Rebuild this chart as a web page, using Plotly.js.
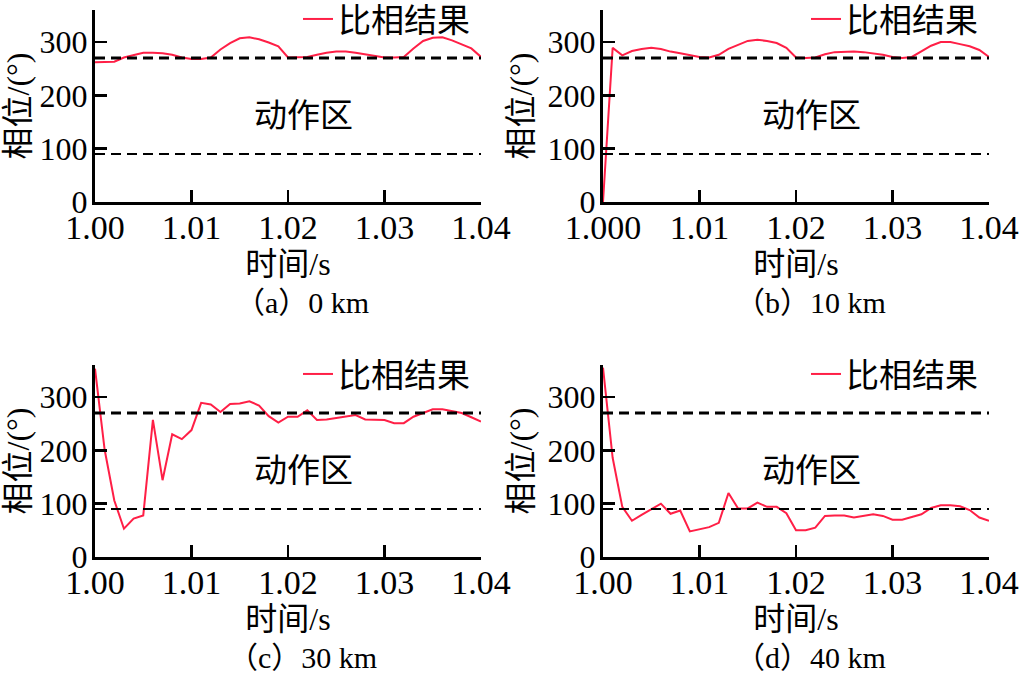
<!DOCTYPE html>
<html>
<head>
<meta charset="utf-8">
<script src="https://cdn.plot.ly/plotly-3.0.1.min.js"></script>
<style>
  html, body { margin: 0; padding: 0; background: #ffffff; }
  #chart { width: 1021px; height: 674px; }
</style>
</head>
<body>
<div id="chart"></div>
<script>
// Sample times (s)
const time = [1.000, 1.001, 1.002, 1.003, 1.004, 1.005, 1.006, 1.007, 1.008, 1.009,
              1.010, 1.011, 1.012, 1.013, 1.014, 1.015, 1.016, 1.017, 1.018, 1.019,
              1.020, 1.021, 1.022, 1.023, 1.024, 1.025, 1.026, 1.027, 1.028, 1.029,
              1.030, 1.031, 1.032, 1.033, 1.034, 1.035, 1.036, 1.037, 1.038, 1.039,
              1.040];

// Phase comparison result (degrees) for each fault distance
const phase0km = [262, 262, 263, 271, 276, 280, 280, 279, 276, 271,
                  268, 268, 271, 286, 298, 307, 309, 305, 299, 292,
                  271, 271, 272, 276, 280, 282, 282, 280, 277, 273,
                  271, 271, 272, 288, 302, 308, 309, 303, 296, 288,
                  272];
const phase10km = [0, 289, 275, 283, 287, 289, 287, 282, 279, 276,
                   272, 271, 276, 287, 294, 302, 304, 302, 298, 289,
                   271, 270, 271, 277, 281, 282, 282, 281, 279, 276,
                   272, 270, 272, 282, 293, 300, 300, 296, 292, 285,
                   272];
const phase30km = [353, 201, 106, 53, 72, 78, 257, 144, 230, 221,
                   238, 289, 286, 272, 287, 288, 292, 284, 264, 252,
                   263, 263, 275, 257, 258, 261, 263, 266, 258, 257,
                   257, 251, 251, 263, 270, 277, 277, 273, 270, 262,
                   254];
const phase40km = [355, 186, 94, 68, 79, 90, 100, 81, 87, 48,
                   52, 56, 64, 120, 91, 91, 102, 94, 94, 82,
                   50, 50, 55, 77, 78, 78, 74, 77, 80, 77,
                   70, 70, 75, 80, 92, 97, 97, 95, 88, 74,
                   68];

// Operating zone boundaries (degrees)
const zoneUpper = 270;
const zoneLower = 90;

// Axis ticks
const xTickVals = [1.00, 1.01, 1.02, 1.03, 1.04];
const xTickTextA = ['1.00', '1.01', '1.02', '1.03', '1.04'];
const xTickTextB = ['1.000', '1.01', '1.02', '1.03', '1.04'];
const yTickVals = [0, 100, 200, 300, 360];
const yTickText = ['0', '100', '200', '300', ''];

// Text
const seriesName = '比相结果';
const zoneLabel = '动作区';
const xTitle = '时间/s';
const yTitle = '相位/(°)';
const captions = ['（a）0 km', '（b）10 km', '（c）30 km', '（d）40 km'];
const seriesList = [phase0km, phase10km, phase30km, phase40km];
const xTickTexts = [xTickTextA, xTickTextB, xTickTextA, xTickTextA];

const SERIF = '"Liberation Serif", serif';
const FONT = '"Liberation Serif", "Noto Sans CJK SC", serif';
const RED = '#ff1f46';
const W = 1021, H = 674;
const px = v => v / W;
const py = v => 1 - v / H;

// Plot-area boxes in pixels: [left, right, top, bottom]
const boxes = [
  [95, 481, 10, 202],
  [603, 989, 10, 202],
  [95, 481, 365, 557],
  [603, 989, 365, 557]
];

const data = [];
const layout = {
  width: W, height: H,
  margin: {l: 0, r: 0, t: 0, b: 0, autoexpand: false},
  paper_bgcolor: '#ffffff',
  plot_bgcolor: '#ffffff',
  font: {family: FONT, color: '#000000'},
  showlegend: true,
  shapes: [],
  annotations: []
};

boxes.forEach((b, i) => {
  const n = i === 0 ? '' : String(i + 1);
  const xa = 'x' + n, ya = 'y' + n;
  const legendId = 'legend' + n;

  data.push({
    type: 'scatter', mode: 'lines',
    x: time, y: seriesList[i],
    xaxis: xa, yaxis: ya,
    name: seriesName,
    legend: legendId,
    line: {color: RED, width: 2}
  });

  layout['xaxis' + n] = {
    domain: [px(b[0]), px(b[1])],
    anchor: ya,
    range: [1.0, 1.04],
    tickmode: 'array', tickvals: xTickVals, ticktext: xTickTexts[i],
    ticks: 'inside', ticklen: 12, tickwidth: 2.5, tickcolor: '#000',
    ticklabelstandoff: -7,
    showline: true, linewidth: 3, linecolor: '#000',
    showgrid: false, zeroline: false,
    tickfont: {family: SERIF, size: 34, color: '#000'},
    title: {text: xTitle, font: {family: FONT, size: 32, color: '#000'}, standoff: 0}
  };
  layout['yaxis' + n] = {
    domain: [py(b[3]), py(b[2])],
    anchor: xa,
    range: [0, 360],
    tickmode: 'array', tickvals: yTickVals, ticktext: yTickText,
    ticks: 'inside', ticklen: 12, tickwidth: 2.5, tickcolor: '#000',
    ticklabelstandoff: -2,
    showline: true, linewidth: 3, linecolor: '#000',
    showgrid: false, zeroline: false,
    tickfont: {family: SERIF, size: 32, color: '#000'},
    title: {text: yTitle, font: {family: FONT, size: 32, color: '#000'}, standoff: 6}
  };

  layout[legendId] = {
    x: px(b[0] + 203), y: py(b[2] - 19),
    xanchor: 'left', yanchor: 'top',
    bgcolor: 'rgba(0,0,0,0)', borderwidth: 0,
    font: {family: FONT, size: 33, color: '#000'},
    itemwidth: 30
  };

  // Operating zone boundaries
  [[zoneUpper, 3], [zoneLower, 2]].forEach(([v, w]) => {
    layout.shapes.push({
      type: 'line', xref: xa + ' domain', yref: ya,
      x0: 0, x1: 1, y0: v, y1: v,
      line: {color: '#000', width: w, dash: '10px,6px'}
    });
  });

  // Zone label
  layout.annotations.push({
    text: zoneLabel, showarrow: false,
    xref: 'paper', yref: 'paper',
    x: px((b[0] + b[1]) / 2 + 15), y: py(b[2] + 106),
    xanchor: 'center', yanchor: 'middle',
    font: {family: FONT, size: 33, color: '#000'}
  });

  // Sub-figure caption
  layout.annotations.push({
    text: captions[i], showarrow: false,
    xref: 'paper', yref: 'paper',
    x: px((b[0] + b[1]) / 2 + 14), y: py(b[3] + 100),
    xanchor: 'center', yanchor: 'middle',
    font: {family: FONT, size: 30, color: '#000'}
  });
});

Plotly.newPlot('chart', data, layout, {displayModeBar: false, staticPlot: true});
</script>
</body>
</html>
